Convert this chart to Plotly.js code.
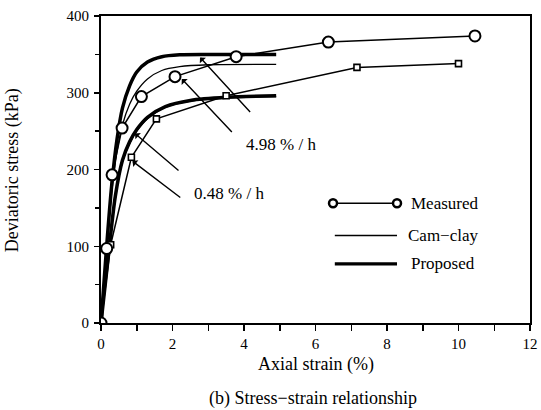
<!DOCTYPE html>
<html>
<head>
<meta charset="utf-8">
<script src="https://cdn.plot.ly/plotly-3.0.1.min.js"></script>
<style>html,body{margin:0;padding:0;background:#fff;}#chart{width:541px;height:410px;}</style>
</head>
<body>
<div id="chart"></div>
<script>
// Measured data, 4.98 %/h (circles)
var measFastX = [0, 0.16, 0.31, 0.59, 1.13, 2.07, 3.78, 6.36, 10.46];
var measFastY = [0, 97, 193, 254, 295, 321, 347, 366, 374];
// Measured data, 0.48 %/h (squares)
var measSlowX = [0, 0.27, 0.85, 1.55, 3.50, 7.16, 10.0];
var measSlowY = [0, 102, 216, 266, 296, 333, 338];
// Proposed model, 4.98 %/h
var propFastX = [0, 0.15, 0.3, 0.45, 0.6, 0.8, 1.0, 1.3, 1.7, 2.2, 3.0, 4.9];
var propFastY = [0, 95, 180, 240, 280, 309, 327, 340, 347, 349.5, 350, 350];
// Cam-clay model, 4.98 %/h
var camFastX = [0, 0.15, 0.3, 0.45, 0.6, 0.8, 1.0, 1.3, 1.7, 2.2, 3.0, 4.9];
var camFastY = [0, 90, 170, 224, 258, 285, 302, 318, 329, 334, 336.5, 337];
// Proposed model, 0.48 %/h
var propSlowX = [0, 0.2, 0.4, 0.6, 0.8, 1.0, 1.3, 1.8, 2.5, 3.5, 4.9];
var propSlowY = [0, 85, 165, 212, 236, 252, 268, 282, 290, 294, 296];
// Cam-clay model, 0.48 %/h
var camSlowX = [0, 0.2, 0.4, 0.6, 0.8, 1.0, 1.3, 1.8, 2.5, 3.5, 4.9];
var camSlowY = [0, 83, 162, 210, 234, 250, 266, 281, 289, 293, 295];

var xTicks = [0, 2, 4, 6, 8, 10, 12];
var yTicks = [0, 100, 200, 300, 400];
var legendLabels = ['Measured', 'Cam\u2212clay', 'Proposed'];
var rateLabels = ['4.98 % / h', '0.48 % / h'];

var FONT = 'Liberation Serif, Times New Roman, serif';

var traces = [
  {x: camFastX, y: camFastY, mode: 'lines', line: {color: '#000', width: 1.3, shape: 'spline', smoothing: 0.8}},
  {x: camSlowX, y: camSlowY, mode: 'lines', line: {color: '#000', width: 1.3, shape: 'spline', smoothing: 0.8}},
  {x: propFastX, y: propFastY, mode: 'lines', line: {color: '#000', width: 3.5, shape: 'spline', smoothing: 0.8}},
  {x: propSlowX, y: propSlowY, mode: 'lines', line: {color: '#000', width: 3.5, shape: 'spline', smoothing: 0.8}},
  {x: measSlowX, y: measSlowY, mode: 'lines+markers', line: {color: '#000', width: 1.5},
   marker: {symbol: 'square', size: 6, color: '#fff', line: {color: '#000', width: 1.6}}},
  {x: measFastX, y: measFastY, mode: 'lines+markers', line: {color: '#000', width: 1.5},
   marker: {symbol: 'circle', size: 11, color: '#fff', line: {color: '#000', width: 2}}}
];

// legend geometry (data units)
var legX0 = 6.49, legX1 = 8.28, legTextX = 8.62;
var legY = [156, 114, 77];

var shapes = [
  {type: 'line', xref: 'x', yref: 'y', x0: legX0, x1: legX1, y0: legY[0], y1: legY[0], line: {color: '#000', width: 1.5}},
  {type: 'line', xref: 'x', yref: 'y', x0: legX0 + 0.05, x1: legX1, y0: legY[1], y1: legY[1], line: {color: '#000', width: 1.3}},
  {type: 'line', xref: 'x', yref: 'y', x0: legX0 + 0.05, x1: legX1, y0: legY[2], y1: legY[2], line: {color: '#000', width: 3.2}},
  {type: 'circle', xref: 'x', yref: 'y', xsizemode: 'pixel', ysizemode: 'pixel', xanchor: legX0, yanchor: legY[0],
   x0: -4, x1: 4, y0: -4, y1: 4, fillcolor: '#fff', line: {color: '#000', width: 2.5}},
  {type: 'circle', xref: 'x', yref: 'y', xsizemode: 'pixel', ysizemode: 'pixel', xanchor: legX1, yanchor: legY[0],
   x0: -4, x1: 4, y0: -4, y1: 4, fillcolor: '#fff', line: {color: '#000', width: 2.5}}
];

var annotations = [
  {x: legTextX, y: legY[0], xref: 'x', yref: 'y', text: legendLabels[0], showarrow: false, xanchor: 'left', font: {family: FONT, size: 17, color: '#000'}},
  {x: legTextX - 0.08, y: legY[1], xref: 'x', yref: 'y', text: legendLabels[1], showarrow: false, xanchor: 'left', font: {family: FONT, size: 17, color: '#000'}},
  {x: legTextX, y: legY[2], xref: 'x', yref: 'y', text: legendLabels[2], showarrow: false, xanchor: 'left', font: {family: FONT, size: 17, color: '#000'}},
  {x: 4.0, y: 233, xref: 'x', yref: 'y', text: rateLabels[0], showarrow: false, xanchor: 'left', font: {family: FONT, size: 17, color: '#000'}},
  {x: 2.55, y: 169, xref: 'x', yref: 'y', text: rateLabels[1], showarrow: false, xanchor: 'left', font: {family: FONT, size: 17, color: '#000'}},
  // arrows
  {x: 2.77, y: 346, ax: 4.21, ay: 273, xref: 'x', yref: 'y', axref: 'x', ayref: 'y', text: '', showarrow: true, arrowhead: 1, arrowsize: 1, arrowwidth: 1.4, arrowcolor: '#000', standoff: 0},
  {x: 2.26, y: 318, ax: 3.70, ay: 247, xref: 'x', yref: 'y', axref: 'x', ayref: 'y', text: '', showarrow: true, arrowhead: 1, arrowsize: 1, arrowwidth: 1.4, arrowcolor: '#000', standoff: 0},
  {x: 0.95, y: 247, ax: 2.21, ay: 197, xref: 'x', yref: 'y', axref: 'x', ayref: 'y', text: '', showarrow: true, arrowhead: 1, arrowsize: 1, arrowwidth: 1.4, arrowcolor: '#000', standoff: 0},
  {x: 0.88, y: 211, ax: 2.26, ay: 162, xref: 'x', yref: 'y', axref: 'x', ayref: 'y', text: '', showarrow: true, arrowhead: 1, arrowsize: 1, arrowwidth: 1.4, arrowcolor: '#000', standoff: 0},
  // axis titles and caption
  {x: (12 - 101) / 429, y: (323 - 170) / 307.5, xref: 'paper', yref: 'paper', xanchor: 'center', yanchor: 'middle',
   text: 'Deviatoric stress (kPa)', textangle: -90, showarrow: false, font: {family: FONT, size: 18, color: '#000'}},
  {x: 0.5, y: (323 - 365) / 307.5, xref: 'paper', yref: 'paper', xanchor: 'center', yanchor: 'middle',
   text: 'Axial strain (%)', showarrow: false, font: {family: FONT, size: 18, color: '#000'}},
  {x: (313 - 101) / 429, y: (323 - 399) / 307.5, xref: 'paper', yref: 'paper', xanchor: 'center', yanchor: 'middle',
   text: '(b) Stress\u2212strain relationship', showarrow: false, font: {family: FONT, size: 18, color: '#000'}}
];

var layout = {
  width: 541, height: 410,
  margin: {l: 101, r: 11, t: 15.5, b: 87},
  paper_bgcolor: '#fff', plot_bgcolor: '#fff',
  showlegend: false,
  font: {family: FONT, size: 15, color: '#000'},
  xaxis: {
    range: [0, 12], tickvals: xTicks, ticktext: xTicks.map(String),
    ticks: 'outside', ticklen: 6, tickwidth: 1.5, tickcolor: '#000',
    minor: {dtick: 1, ticks: 'outside', ticklen: 6, tickwidth: 1.5, tickcolor: '#000'},
    showline: true, linecolor: '#000', linewidth: 2, mirror: true,
    showgrid: false, zeroline: false, ticklabelstandoff: 0,
    tickfont: {family: FONT, size: 15, color: '#000'}
  },
  yaxis: {
    range: [0, 400], tickvals: yTicks, ticktext: yTicks.map(String),
    ticks: 'outside', ticklen: 5, tickwidth: 1.5, tickcolor: '#000',
    minor: {dtick: 50, ticks: 'outside', ticklen: 4, tickwidth: 1.5, tickcolor: '#000'},
    showline: true, linecolor: '#000', linewidth: 2, mirror: true,
    showgrid: false, zeroline: false, ticklabelstandoff: 2,
    tickfont: {family: FONT, size: 15, color: '#000'}
  },
  shapes: shapes,
  annotations: annotations
};

Plotly.newPlot('chart', traces, layout, {staticPlot: true, displayModeBar: false});
</script>
</body>
</html>
